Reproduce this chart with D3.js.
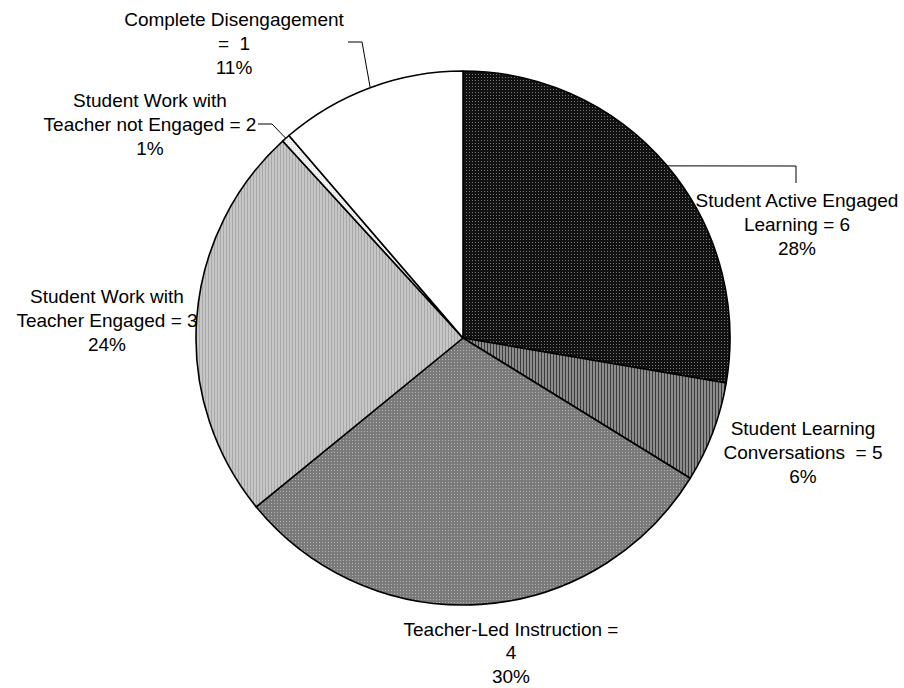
<!DOCTYPE html>
<html>
<head>
<meta charset="utf-8">
<script src="https://cdn.jsdelivr.net/npm/d3@7"></script>
<style>
  html, body { margin: 0; padding: 0; background: #fff; }
  svg { display: block; }
  text { font-family: "Liberation Sans", Arial, sans-serif; font-size: 19px; fill: #000; white-space: pre; }
</style>
</head>
<body>
<svg id="chart" width="904" height="688"></svg>
<script>
// ---- data ----
const categories = [
  "Student Active Engaged Learning = 6",
  "Student Learning Conversations = 5",
  "Teacher-Led Instruction = 4",
  "Student Work with Teacher Engaged = 3",
  "Student Work with Teacher not Engaged = 2",
  "Complete Disengagement = 1"
];
const values = [27.7, 6.1, 30.3, 24.1, 0.5, 11.3];
const percentLabels = ["28%", "6%", "30%", "24%", "1%", "11%"];
const labelLines = [
  ["Student Active Engaged", "Learning = 6", "28%"],
  ["Student Learning", "Conversations  = 5", "6%"],
  ["Teacher-Led Instruction =", "4", "30%"],
  ["Student Work with", "Teacher Engaged = 3", "24%"],
  ["Student Work with", "Teacher not Engaged = 2", "1%"],
  ["Complete Disengagement", "=  1", "11%"]
];

// ---- layout (not data) ----
const cx = 463, cy = 338, R = 267;
const labelCenters = [[797, 200], [803, 428], [511, 629], [107, 296], [150, 100], [234, 19]];
const lineGaps = [24, 24, 23.5, 24, 24, 24];
// leader: elbow point; label attach point
const leaders = [
  { slice: 0, pts: [[796, 166], [796, 183]] },
  { slice: 4, pts: [[272, 124], [258, 124]] },
  { slice: 5, pts: [[362, 42], [348, 42]] }
];

const svg = d3.select("#chart");
const defs = svg.append("defs");

function pattern(id, w, h, bg, draws) {
  const p = defs.append("pattern").attr("id", id)
    .attr("patternUnits", "userSpaceOnUse").attr("width", w).attr("height", h);
  p.append("rect").attr("width", w).attr("height", h).attr("fill", bg);
  draws.forEach(d => p.append("rect").attr("x", d[0]).attr("y", d[1])
    .attr("width", d[2]).attr("height", d[3]).attr("fill", d[4]));
}
pattern("p0", 3, 3, "#111", [[0, 0, 1, 1, "#777"]]);
pattern("p1", 3, 3, "#8c8c8c", [[0, 0, 1, 3, "#3c3c3c"]]);
pattern("p2", 3, 3, "#7a7a7a", [[0, 0, 1, 1, "#b4b4b4"]]);
pattern("p3", 3, 3, "#c6c6c6", [[0, 0, 1, 3, "#a8a8a8"]]);
pattern("p4", 2, 2, "#f4f4f4", [[0, 0, 1, 1, "#dcdcdc"]]);

const fills = ["url(#p0)", "url(#p1)", "url(#p2)", "url(#p3)", "url(#p4)", "#ffffff"];

const pie = d3.pie().sort(null).value(d => d)(values);
const arc = d3.arc().innerRadius(0).outerRadius(R);

const g = svg.append("g").attr("transform", `translate(${cx},${cy})`);
g.selectAll("path.slice").data(pie).enter().append("path")
  .attr("class", "slice")
  .attr("d", arc)
  .attr("fill", (d, i) => fills[i])
  .attr("stroke", "#000")
  .attr("stroke-width", 1.6)
  .attr("stroke-linejoin", "round");

// labels
labelLines.forEach((lines, i) => {
  const [lx, ly] = labelCenters[i];
  const t = svg.append("text").attr("text-anchor", "middle").attr("xml:space", "preserve");
  lines.forEach((s, k) => {
    t.append("tspan").attr("x", lx).attr("y", ly + k * lineGaps[i])
      .attr("dy", "0.35em").text(s);
  });
});

// leader lines from mid-angle of slice on the rim
leaders.forEach(L => {
  const d = pie[L.slice];
  const a = (d.startAngle + d.endAngle) / 2;
  const start = [cx + R * Math.sin(a), cy - R * Math.cos(a)];
  const pts = [start].concat(L.pts);
  svg.append("path")
    .attr("d", d3.line()(pts))
    .attr("fill", "none")
    .attr("stroke", "#000")
    .attr("stroke-width", 1);
});
</script>
</body>
</html>
